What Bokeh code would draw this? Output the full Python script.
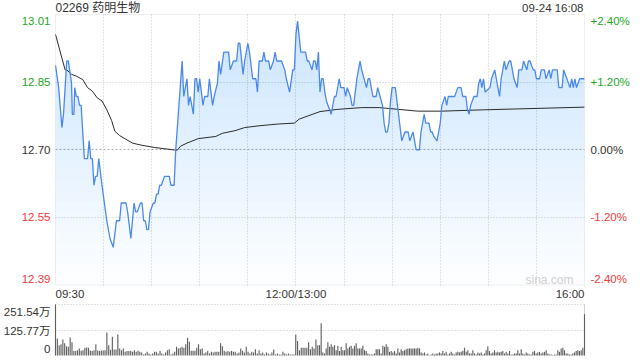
import numpy as np
from bokeh.plotting import figure
from bokeh.models import Range1d, FixedTicker, Grid, BoxAnnotation
from bokeh.core.properties import value
from bokeh.embed import file_html
from bokeh.resources import INLINE

# ---------------- data ----------------
prev_close = 12.70
title_text = "02269 药明生物"
stamp_text = "09-24 16:08"
left_ticks = ["13.01", "12.85", "12.70", "12.55", "12.39"]
right_ticks = ["+2.40%", "+1.20%", "0.00%", "-1.20%", "-2.40%"]
x_labels = ["09:30", "12:00/13:00", "16:00"]
x_label_minutes = [0, 150, 330]
vol_ticks = ["251.54万", "125.77万", "0"]
vol_max = 251.54

# minute index since 09:30 (lunch break removed) and price
price_t = [0, 2, 4, 5, 7, 8, 10, 10.5, 11.5, 12, 13, 14, 15, 16, 17, 18, 20, 21, 22, 23,
           24, 25, 26, 27, 29, 32, 34, 36, 38, 40, 41, 44, 45, 47, 49, 50, 51, 53, 54, 55,
           56, 57, 58, 59, 61, 62, 63, 64, 65, 66, 68, 71, 72, 74, 75, 77, 79, 80, 82, 83,
           84, 86, 87, 88, 89, 90, 92, 93, 95, 96, 98, 99, 101, 102, 103, 105, 108, 109, 111, 113,
           114, 115, 117, 118, 120, 121, 123, 125, 126, 127, 129, 130, 131, 133, 134, 136, 137, 138, 141, 143,
           144, 146, 148, 149, 150, 151, 153, 156, 157, 158, 160, 161, 162, 163, 164, 165, 166, 167, 168, 169,
           172, 174, 175, 177, 178, 180, 181, 182, 184, 185, 186, 188, 189, 190, 191, 194, 195, 196, 198, 200,
           201, 204, 205, 206, 207, 208, 209, 210, 212, 214, 215, 216, 218, 220, 221, 223, 224, 225, 227, 228,
           230, 231, 233, 234, 235, 236, 238, 239, 240, 241, 243, 244, 245, 249, 251, 253, 254, 256, 257, 258,
           259, 261, 263, 264, 265, 266, 267, 268, 271, 272, 274, 275, 277, 278, 279, 280, 281, 283, 284, 285,
           286, 288, 289, 291, 292, 294, 295, 296, 298, 299, 300, 302, 303, 305, 306, 308, 309, 310, 313, 314,
           316, 317, 319, 320, 321, 322, 323, 324, 325, 327, 330]
price_v = [12.89, 12.84, 12.75, 12.78, 12.90, 12.90, 12.85, 12.78, 12.78, 12.84, 12.82, 12.82, 12.80, 12.80, 12.74, 12.68, 12.68, 12.72, 12.68, 12.68,
           12.62, 12.64, 12.64, 12.68, 12.62, 12.54, 12.50, 12.48, 12.54, 12.54, 12.58, 12.58, 12.56, 12.50, 12.58, 12.56, 12.56, 12.58, 12.58, 12.54,
           12.54, 12.52, 12.52, 12.56, 12.58, 12.58, 12.60, 12.60, 12.62, 12.62, 12.64, 12.64, 12.62, 12.62, 12.70, 12.80, 12.90, 12.82, 12.86, 12.80,
           12.82, 12.78, 12.86, 12.86, 12.83, 12.86, 12.80, 12.82, 12.82, 12.86, 12.80, 12.82, 12.85, 12.90, 12.87, 12.92, 12.92, 12.88, 12.90, 12.90,
           12.94, 12.94, 12.87, 12.90, 12.94, 12.92, 12.86, 12.86, 12.83, 12.90, 12.90, 12.92, 12.90, 12.90, 12.88, 12.90, 12.92, 12.90, 12.90, 12.88,
           12.86, 12.83, 12.88, 12.88, 12.96, 12.99, 12.92, 12.92, 12.90, 12.90, 12.88, 12.90, 12.90, 12.88, 12.92, 12.83, 12.86, 12.86, 12.83, 12.81,
           12.78, 12.82, 12.82, 12.86, 12.84, 12.84, 12.82, 12.84, 12.82, 12.80, 12.80, 12.86, 12.88, 12.90, 12.88, 12.84, 12.86, 12.86, 12.82, 12.82,
           12.84, 12.80, 12.76, 12.74, 12.74, 12.76, 12.81, 12.84, 12.84, 12.78, 12.75, 12.72, 12.74, 12.74, 12.72, 12.74, 12.72, 12.70, 12.70, 12.74,
           12.78, 12.76, 12.76, 12.74, 12.74, 12.73, 12.72, 12.74, 12.76, 12.80, 12.82, 12.80, 12.82, 12.82, 12.84, 12.84, 12.82, 12.82, 12.79, 12.78,
           12.80, 12.82, 12.82, 12.85, 12.86, 12.84, 12.86, 12.83, 12.84, 12.86, 12.88, 12.86, 12.82, 12.86, 12.88, 12.90, 12.88, 12.90, 12.90, 12.88,
           12.86, 12.84, 12.88, 12.88, 12.90, 12.88, 12.90, 12.90, 12.88, 12.88, 12.86, 12.86, 12.88, 12.88, 12.86, 12.88, 12.86, 12.88, 12.88, 12.84,
           12.84, 12.88, 12.86, 12.85, 12.84, 12.86, 12.84, 12.86, 12.84, 12.86, 12.86]

avg_t = [0, 6, 7, 10, 13, 17, 20, 23, 26, 29, 32, 35, 37, 40, 48, 54, 62, 73, 76, 78,
         82, 89, 100, 104, 112, 118, 127, 139, 149, 152, 165, 176, 191, 202, 214, 226, 241, 267, 288, 309, 330]
avg_v = [12.96, 12.88, 12.88, 12.87, 12.866, 12.858, 12.84, 12.832, 12.817, 12.81, 12.79, 12.766, 12.742, 12.732,
         12.715, 12.71, 12.705, 12.70, 12.699, 12.708, 12.715, 12.725, 12.73, 12.737, 12.743, 12.75, 12.754,
         12.758, 12.76, 12.769, 12.786, 12.791, 12.795, 12.795, 12.791, 12.787, 12.787, 12.79, 12.792, 12.794, 12.796]

# volume (万 shares): first block 09:30 to ~13:15, second block to 16:00
vol_am = [251.54, 84, 51, 55, 79, 60, 46, 43, 89, 65, 22, 22, 26, 35, 23, 26, 38, 40, 38, 25,
          22, 26, 55, 25, 22, 25, 25, 26, 114, 51, 28, 93, 30, 30, 104, 35, 26, 35, 18, 22,
          22, 23, 18, 26, 18, 23, 18, 15, 5, 10, 18, 10, 5, 10, 18, 18, 10, 22, 10, 5,
          15, 26, 31, 5, 10, 18, 43, 35, 38, 43, 38, 55, 88, 68, 23, 23, 23, 38, 55, 31,
          35, 10, 15, 22, 10, 18, 15, 18, 18, 18, 60, 46, 23, 18, 22, 18, 22, 18, 18, 10,
          15, 35, 23, 15, 43, 18, 10, 18, 15, 31, 10, 26, 10, 15, 5, 15, 10, 5, 15, 30,
          5, 10, 5, 5, 18, 10, 5, 10, 5, 5, 5, 104, 71, 26, 38, 38, 38, 38, 65, 31,
          43, 35, 79, 51]
vol_pm = [51, 159, 15, 10, 35, 65, 43, 55, 43, 51, 26, 48, 22, 43, 26, 26, 60, 35, 43, 48,
          35, 48, 60, 35, 35, 35, 48, 26, 22, 10, 5, 5, 5, 10, 31, 31, 31, 10, 48, 43,
          55, 43, 18, 22, 15, 22, 10, 35, 15, 31, 22, 26, 31, 35, 35, 35, 35, 35, 35, 38,
          35, 15, 10, 15, 5, 10, 2, 5, 10, 5, 10, 10, 15, 10, 22, 10, 18, 5, 10, 18,
          10, 5, 15, 18, 15, 18, 23, 38, 18, 26, 10, 10, 26, 10, 5, 15, 10, 15, 5, 10,
          26, 46, 22, 10, 15, 26, 15, 18, 15, 18, 22, 10, 18, 10, 22, 5, 5, 10, 10, 26,
          10, 31, 10, 5, 15, 10, 5, 5, 18, 22, 10, 15, 18, 10, 15, 18, 26, 10, 5, 5,
          2, 5, 5, 26, 18, 35, 38, 26, 10, 10, 5, 5, 10, 15, 22, 26, 22, 26, 38, 204]

# ---------------- layout (pixels) ----------------
W, H = 640, 360
FL, FR = 55, 584          # plot area left/right
PT, PB = 14, 284.5        # price panel top/bottom
VT, VB = 304, 355         # volume panel top/bottom
t_end = 330

ylo, yhi = prev_close * 0.976, prev_close * 1.024
kx = t_end / (FR - FL)
ky = (yhi - ylo) / (PB - PT)
kv = vol_max / (VB - VT)

def X(px):
    return (px - FL) * kx

def Y(py):
    return yhi - (py - PT) * ky

def V(py):
    return vol_max - (py - VT) * kv

FONT = "Liberation Sans"
CJK = "Liberation Sans, Noto Sans CJK SC"
GREEN = "#1fa51f"
RED = "#f03a3a"
DARK = "#333333"
LINE_BLUE = "#4a88ea"
GRID = "#c8c8c8"

p = figure(width=W, height=H, x_range=Range1d(X(0), X(W)), y_range=Range1d(Y(H), Y(0)),
           output_backend="svg", toolbar_location=None,
           min_border=0, min_border_left=0, min_border_right=0, min_border_top=0, min_border_bottom=0)
p.extra_y_ranges = {"vol": Range1d(V(H), V(0))}
p.xaxis.visible = False
p.yaxis.visible = False
p.xgrid.visible = False
p.ygrid.visible = False
p.outline_line_color = None
p.background_fill_color = "white"
p.border_fill_color = "white"

# grids of the price panel
p.add_layout(Grid(dimension=0, ticker=FixedTicker(ticks=list(range(30, 330, 30))),
                  cross_bounds=(ylo, yhi), grid_line_color=GRID, grid_line_dash="1 2"))
p.add_layout(Grid(dimension=1, ticker=FixedTicker(ticks=[prev_close * 1.012, prev_close * 0.988]),
                  cross_bounds=(0, t_end), grid_line_color=GRID, grid_line_dash="1 2"))
p.add_layout(Grid(dimension=1, ticker=FixedTicker(ticks=[prev_close]),
                  cross_bounds=(0, t_end), grid_line_color="#a8a8a8", grid_line_dash="2 2"))
# grids of the volume panel
p.add_layout(Grid(dimension=1, y_range_name="vol", ticker=FixedTicker(ticks=[vol_max, vol_max / 2]),
                  cross_bounds=(0, t_end), grid_line_color="#c0c0c0", grid_line_dash="1 2"))
p.add_layout(Grid(dimension=0, y_range_name="vol", ticker=FixedTicker(ticks=[0, t_end]),
                  cross_bounds=(0, vol_max), grid_line_color="#d0d0d0"))

pt = np.array(price_t, dtype=float)
pv = np.array(price_v, dtype=float)

# gradient fill under the price line: stacked translucent layers
n_layers = 26
edges = np.linspace(ylo, yhi, n_layers + 1)[:-1]
for e in edges:
    p.varea(x=pt, y1=np.full_like(pv, e), y2=np.clip(pv, e, yhi),
            fill_color="#4d81dc", fill_alpha=0.0105)

p.line(avg_t, avg_v, line_color="#2b2b2b", line_width=1)
p.line(pt, pv, line_color=LINE_BLUE, line_width=1.3)

p.add_layout(BoxAnnotation(left=0, right=t_end, bottom=ylo, top=yhi, fill_alpha=0,
                           line_color="#c8c8c8", line_width=1, level="overlay"))

# volume bars
vt_am = np.linspace(0, 163.6, len(vol_am))
vt_pm = np.linspace(164.7, t_end, len(vol_pm))
p.vbar(x=np.concatenate([vt_am, vt_pm]), top=np.array(vol_am + vol_pm, dtype=float),
       bottom=0, width=0.7, fill_color="#5e5e5e", line_color=None, y_range_name="vol")

# ---------------- texts ----------------
tick_py = [20, PT + 67.6, PT + 135.25, PT + 202.9, 278.5]
tick_colors = [GREEN, GREEN, DARK, RED, RED]
p.text(x=[X(FL - 5)] * 5, y=[Y(py) for py in tick_py], text=left_ticks, text_color=tick_colors,
       text_align="right", text_baseline="middle", text_font=value(FONT), text_font_size="11.5px")
p.text(x=[X(FR + 6)] * 5, y=[Y(py) for py in tick_py], text=right_ticks, text_color=tick_colors,
       text_align="left", text_baseline="middle", text_font=value(FONT), text_font_size="11.5px")

for m, lab, al in zip(x_label_minutes, x_labels, ["left", "center", "right"]):
    p.text(x=[m], y=[Y(293)], text=[lab], text_color=DARK, text_align=al, text_baseline="middle",
           text_font=value(FONT), text_font_size="11.5px")

p.text(x=[0], y=[Y(7)], text=[title_text], text_color=DARK, text_align="left",
       text_baseline="middle", text_font=value(CJK), text_font_size="12px")
p.text(x=[X(FR - 1)], y=[Y(7)], text=[stamp_text], text_color=DARK, text_align="right",
       text_baseline="middle", text_font=value(FONT), text_font_size="11.5px")
p.text(x=[X(FR - 11)], y=[Y(279)], text=["sina.com"], text_color="#cfcfcf", text_align="right",
       text_baseline="middle", text_font=value(FONT), text_font_size="12px")

vol_py = [311.5, 330, 348]
p.text(x=[X(FL - 5)] * 3, y=[V(py) for py in vol_py], text=vol_ticks, text_color=DARK,
       text_align="right", text_baseline="middle", text_font=value(CJK), text_font_size="11.5px",
       y_range_name="vol")

open("out.html", "w").write(file_html(p, INLINE))
